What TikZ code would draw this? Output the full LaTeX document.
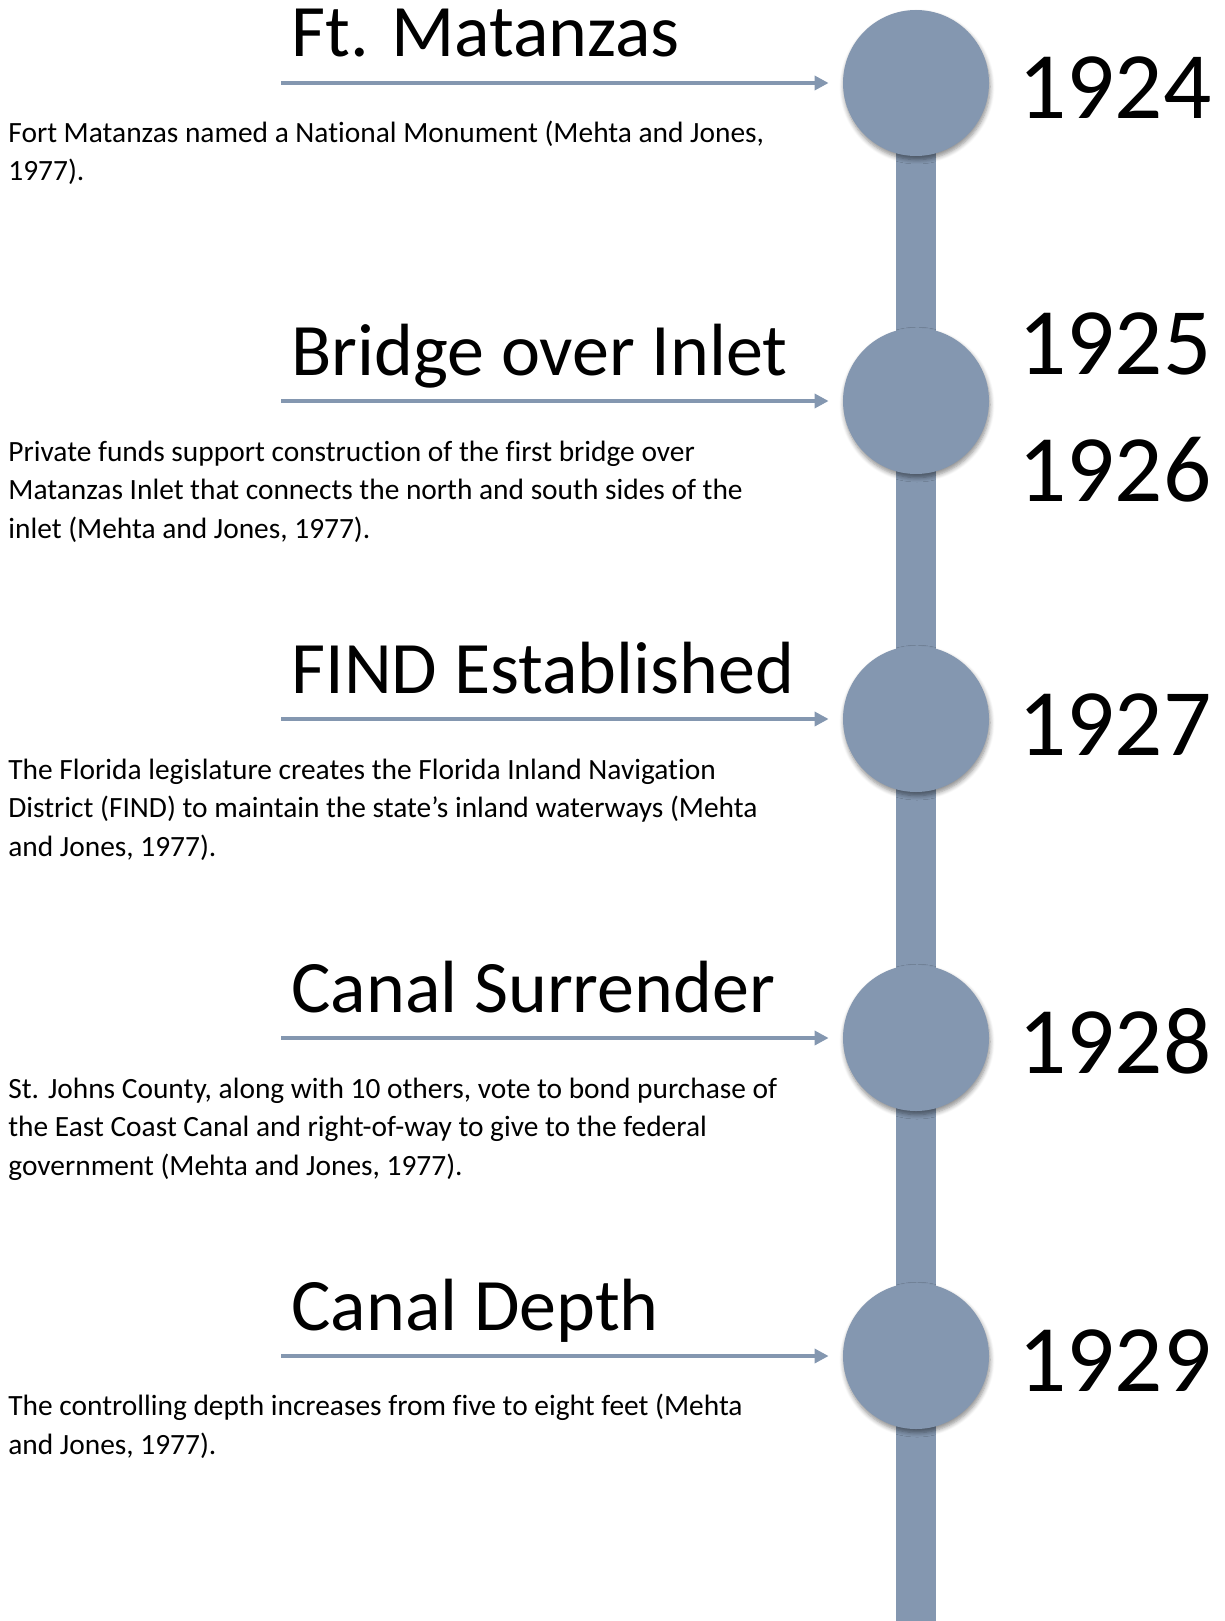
\documentclass[tikz,border=0pt]{standalone}
\usepackage{fontspec}
\setmainfont{Carlito}[Ligatures=NoCommon]
\usetikzlibrary{arrows.meta,shadows.blur}
\definecolor{spineblue}{HTML}{8497B0}
\tikzset{
  spine/.style={line width=20pt, draw=spineblue},
  dot/.style={circle, fill=spineblue, minimum size=73pt, inner sep=0pt,
    blur shadow={shadow xshift=0.5pt, shadow yshift=-1.8pt, shadow blur steps=6, shadow blur radius=2.2pt, shadow opacity=45}},
  event/.style={anchor=base west, inner sep=0pt, font=\fontsize{37}{44}\selectfont},
  note/.style={anchor=base west, inner sep=0pt, align=left, font=\fontsize{14.7}{19.1}\selectfont},
  year/.style={anchor=base west, inner sep=0pt, font=\fontsize{47.6}{56}\selectfont},
  arrow/.style={-{Triangle[length=7pt,width=7pt]}, line width=1.7pt, draw=spineblue, shorten >=7pt}
}
\begin{document}
\begin{tikzpicture}[x=0.5pt,y=-0.5pt]
  \useasboundingbox (0,0) rectangle (1225,1621);

  % timeline spine
  \coordinate (top) at (916,83);
  \coordinate (bottom) at (916,1621);
  \draw[spine] (top) -- (bottom);

  \node[dot] (c1) at (916,83) {};
  \node[dot] (c2) at (916,401) {};
  \node[dot] (c3) at (916,719) {};
  \node[dot] (c4) at (916,1038) {};
  \node[dot] (c5) at (916,1356) {};

  \coordinate (s1) at (281,83);
  \coordinate (s2) at (281,401);
  \coordinate (s3) at (281,719);
  \coordinate (s4) at (281,1038);
  \coordinate (s5) at (281,1356);

  \node[event] (t1) at (291,57) {Ft. Matanzas};
  \node[event] (t2) at (291,375) {Bridge over Inlet};
  \node[event] (t3) at (291,693) {FIND Established};
  \node[event] (t4) at (291,1012) {Canal Surrender};
  \node[event] (t5) at (291,1330) {Canal Depth};

  % notes sit on the baseline of their last line
  \node[note] (n1) at (8,181) {Fort Matanzas named a National Monument (Mehta and Jones,\\1977).};
  \node[note] (n2) at (8,538) {Private funds support construction of the first bridge over\\Matanzas Inlet that connects the north and south sides of the\\inlet (Mehta and Jones, 1977).};
  \node[note] (n3) at (8,856) {The Florida legislature creates the Florida Inland Navigation\\District (FIND) to maintain the state’s inland waterways (Mehta\\and Jones, 1977).};
  \node[note] (n4) at (8,1175) {St. Johns County, along with 10 others, vote to bond purchase of\\the East Coast Canal and right-of-way to give to the federal\\government (Mehta and Jones, 1977).};
  \node[note] (n5) at (8,1454) {The controlling depth increases from five to eight feet (Mehta\\and Jones, 1977).};

  \node[year] (y1) at (1018,119) {1924};
  \node[year] (y2a) at (1018,374) {1925};
  \node[year] (y2b) at (1018,501) {1926};
  \node[year] (y3) at (1018,755) {1927};
  \node[year] (y4) at (1018,1073) {1928};
  \node[year] (y5) at (1018,1391) {1929};

  \draw[arrow] (s1) -- (c1);
  \draw[arrow] (s2) -- (c2);
  \draw[arrow] (s3) -- (c3);
  \draw[arrow] (s4) -- (c4);
  \draw[arrow] (s5) -- (c5);
\end{tikzpicture}
\end{document}
